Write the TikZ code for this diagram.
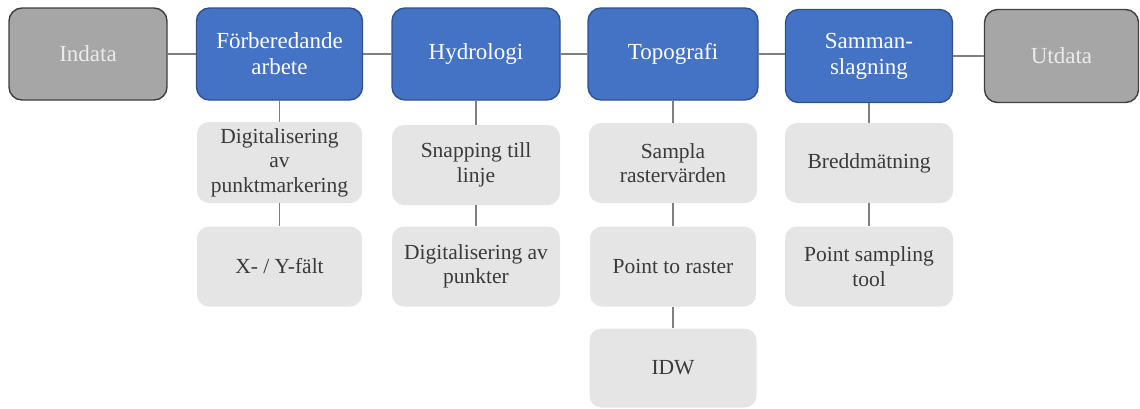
\documentclass[tikz,border=0pt]{standalone}
\usepackage{fontspec}
\setmainfont{Liberation Serif}
\newfontfamily\tnr{Liberation Serif}
\definecolor{blueF}{HTML}{4472C4}
\definecolor{blueD}{HTML}{2F528F}
\definecolor{greyF}{HTML}{A6A6A6}
\definecolor{greyD}{HTML}{3F3F3F}
\definecolor{lightF}{HTML}{E6E5E5}
\definecolor{txtD}{HTML}{3A3A3A}
\definecolor{lineC}{HTML}{7F7F7F}
\tikzset{
  topbox/.style={rounded corners=13pt, line width=1.4pt, inner sep=2pt, align=center,
    font=\tnr\fontsize{23}{26}\selectfont, text=white},
  procbox/.style={topbox, fill=blueF, draw=blueD, minimum width=166pt, minimum height=92pt},
  iobox/.style={topbox, fill=greyF, draw=greyD, text=white!92!black, minimum height=92pt},
  subbox/.style={rounded corners=12pt, fill=lightF, draw=none, inner sep=2pt, align=center,
    minimum width=167pt, minimum height=80pt, text=txtD, font=\tnr\fontsize{21.5}{24.5}\selectfont},
  conn/.style={draw=lineC, line width=1.3pt}
}
\begin{document}
\begin{tikzpicture}[x=1pt,y=-1pt]
\useasboundingbox (0,0) rectangle (1140,408);
% top row
\node[iobox, minimum width=158pt] (in) at (88,54) {Indata};
\node[procbox] (fa) at (279.5,54) {Förberedande\\arbete};
\node[procbox, minimum width=168pt] (hy) at (476,54) {Hydrologi};
\node[procbox, minimum width=170pt] (to) at (673,54) {Topografi};
\node[procbox, minimum width=167pt, minimum height=93pt] (sa) at (869,56) {Samman-\\slagning};
\node[iobox, minimum width=154pt, minimum height=93pt] (ut) at (1061.5,56) {Utdata};
% sub boxes
\node[subbox, minimum width=165pt, minimum height=81pt] (d1) at (279.5,162.5) {Digitalisering\\av\\punktmarkering};
\node[subbox, minimum width=165pt] (d2) at (279.5,266.5) {X- / Y-fält};
\node[subbox, minimum width=168pt] (h1) at (476,165) {Snapping till\\linje};
\node[subbox, minimum width=168pt] (h2) at (476,266.5) {Digitalisering av\\punkter};
\node[subbox, minimum width=168pt] (t1) at (673,163) {Sampla\\rastervärden};
\node[subbox, minimum width=166pt] (t2) at (673,266.5) {Point to raster};
\node[subbox, minimum width=167pt, minimum height=79pt] (t3) at (673,368) {IDW};
\node[subbox, minimum width=168pt] (s1) at (869,163) {Breddmätning};
\node[subbox, minimum width=168pt] (s2) at (869,266.5) {Point sampling\\tool};
% connectors
\draw[conn] (in.east) -- (fa.west);
\draw[conn] (fa.east) -- (hy.west);
\draw[conn] (hy.east) -- (to.west);
\draw[conn] (to.east) -- (sa.west |- to.east);
\draw[conn] (sa.east) -- (ut.west);
\draw[conn] (fa.south) -- (d1.north);
\draw[conn] (d1.south) -- (d2.north);
\draw[conn] (hy.south) -- (h1.north);
\draw[conn] (h1.south) -- (h2.north);
\draw[conn] (to.south) -- (t1.north);
\draw[conn] (t1.south) -- (t2.north);
\draw[conn] (t2.south) -- (t3.north);
\draw[conn] (sa.south) -- (s1.north);
\draw[conn] (s1.south) -- (s2.north);
\end{tikzpicture}
\end{document}
